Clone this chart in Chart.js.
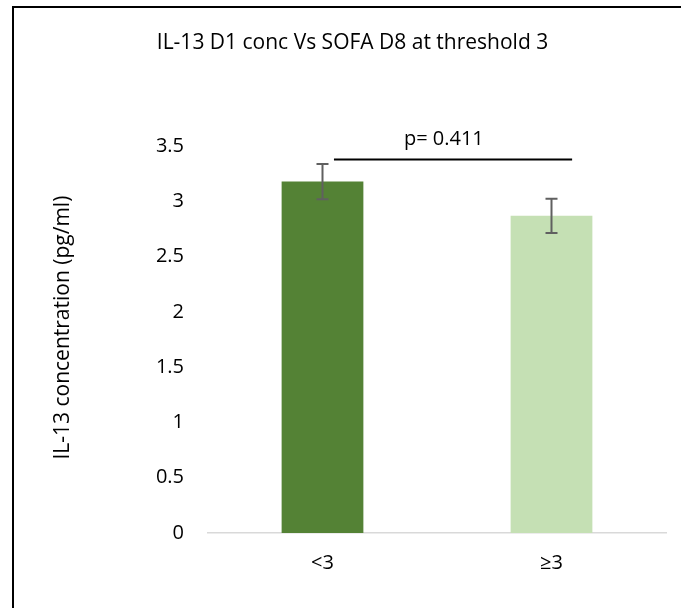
<!DOCTYPE html>
<html>
<head>
<meta charset="utf-8">
<script src="https://cdn.jsdelivr.net/npm/chart.js@4.4.1/dist/chart.umd.min.js"></script>
<style>
  html, body { margin: 0; padding: 0; background: #fff; overflow: hidden; }
  canvas { display: block; }
</style>
</head>
<body>
<canvas id="il13Chart" width="681" height="608"></canvas>
<script>
// Data
const categories = ['<3', '\u22653'];
const meanValues = [3.18, 2.87];
const errValues = [0.16, 0.155];
const yTicks = [0, 0.5, 1, 1.5, 2, 2.5, 3, 3.5];
const yTitle = 'IL-13 concentration (pg/ml)';
const pLabel = 'p= 0.411';
const bracketValue = 3.38;          // height of the significance line
const bracketFrom = 0.05, bracketTo = 1.09, pLabelAt = 0.53; // category positions

const FONT = "'Open Sans', 'Noto Sans', sans-serif";
const barColors = ['#548235', '#C5E0B4'];

// white page + outer chart border (cut off at right/bottom like the original)
const framePlugin = {
    id: 'frame',
    beforeDraw(chart) {
        const c = chart.ctx;
        c.save();
        c.fillStyle = '#fff';
        c.fillRect(0, 0, chart.width, chart.height);
        c.strokeStyle = '#000';
        c.lineWidth = 2;
        c.strokeRect(13, 7, chart.width + 20, chart.height + 20);
        c.restore();
    }
};

// error bars, p-value bracket, y axis title (sits a bit above the axis middle in Excel)
const extrasPlugin = {
    id: 'extras',
    afterDatasetsDraw(chart) {
        const c = chart.ctx;
        const x = chart.scales.x, y = chart.scales.y;
        c.save();
        c.strokeStyle = '#606060';
        c.lineWidth = 2;
        meanValues.forEach((v, i) => {
            const px = x.getPixelForValue(i);
            const top = y.getPixelForValue(v + errValues[i]);
            const bot = y.getPixelForValue(v - errValues[i]);
            c.beginPath();
            c.moveTo(px, top); c.lineTo(px, bot);
            c.moveTo(px - 6, top); c.lineTo(px + 6, top);
            c.moveTo(px - 6, bot); c.lineTo(px + 6, bot);
            c.stroke();
        });
        const by = y.getPixelForValue(bracketValue);
        c.strokeStyle = '#000';
        c.beginPath();
        c.moveTo(x.getPixelForValue(bracketFrom), by);
        c.lineTo(x.getPixelForValue(bracketTo), by);
        c.stroke();
        c.fillStyle = '#000';
        c.font = '20px ' + FONT;
        c.textAlign = 'center';
        c.textBaseline = 'middle';
        c.fillText(pLabel, x.getPixelForValue(pLabelAt), by - 20);

        c.translate(63, (chart.chartArea.top + chart.chartArea.bottom) / 2 - 12);
        c.rotate(-Math.PI / 2);
        c.font = '21px ' + FONT;
        c.fillText(yTitle, 0, 0);
        c.restore();
    }
};

new Chart(document.getElementById('il13Chart').getContext('2d'), {
    type: 'bar',
    data: {
        labels: categories,
        datasets: [{
            data: meanValues,
            backgroundColor: barColors,
            borderWidth: 0,
            categoryPercentage: 1,
            barPercentage: 0.357
        }]
    },
    options: {
        responsive: false,
        animation: false,
        layout: { padding: { left: 39, right: 15, top: 0, bottom: 0 } },
        plugins: {
            legend: { display: false },
            tooltip: { enabled: false },
            title: {
                display: true,
                text: 'IL-13 D1 conc Vs SOFA D8 at threshold 3',
                color: '#000',
                font: { family: FONT, size: 21, weight: 'normal' },
                padding: { top: 30, bottom: 91 }
            }
        },
        scales: {
            x: {
                grid: { display: false, drawTicks: false },
                border: { display: true, color: '#d9d9d9', width: 1.5 },
                ticks: { color: '#000', padding: 18, font: { family: FONT, size: 20 } },
                afterFit(s) { s.height = 75; }
            },
            y: {
                min: 0,
                max: 3.5,
                grid: { display: false, drawTicks: false },
                border: { display: false },
                afterBuildTicks(s) { s.ticks = yTicks.map(v => ({ value: v })); },
                ticks: {
                    color: '#000',
                    padding: 24,
                    font: { family: FONT, size: 20 },
                    callback: v => String(Number(v.toFixed(2)))
                },
                afterFit(s) { s.width = 169; }
            }
        }
    },
    plugins: [framePlugin, extrasPlugin]
});
</script>
</body>
</html>
